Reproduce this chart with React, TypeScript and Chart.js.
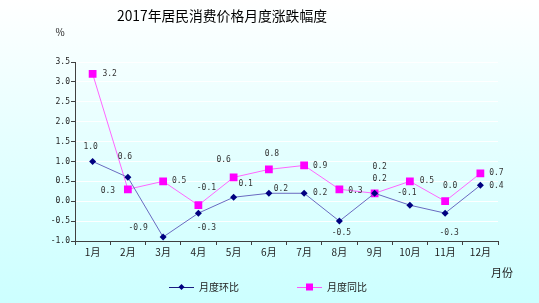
import React, { useEffect, useRef } from "react";
import { Chart, registerables } from "chart.js";

Chart.register(...registerables);

const months = ["1月", "2月", "3月", "4月", "5月", "6月", "7月", "8月", "9月", "10月", "11月", "12月"];
const momValues = [1.0, 0.6, -0.9, -0.3, 0.1, 0.2, 0.2, -0.5, 0.2, -0.1, -0.3, 0.4];
const yoyValues = [3.2, 0.3, 0.5, -0.1, 0.6, 0.8, 0.9, 0.3, 0.2, 0.5, 0.0, 0.7];
const momName = "月度环比";
const yoyName = "月度同比";
const titleText = "2017年居民消费价格月度涨跌幅度";
const yUnit = "%";
const xUnit = "月份";

// label offsets (style only): [dx, dy] in px from each point
const momLabelOffsets = [[-2, -15], [-3, -20], [-25, -9], [8, 15], [12, -13], [12, -4], [16, 0], [2, 12], [5, -14], [-3, -12], [4, 20], [16, 1]];
const yoyLabelOffsets = [[17, 0], [-20, 2], [16, 0], [8, -17], [-10, -17], [3, -15], [16, 0], [16, 2], [5, -26], [17, 0], [5, -15], [16, 0]];

const MONO = "'DejaVu Sans Mono', monospace";
const CJK = "'Noto Sans CJK SC', sans-serif";

const decorPlugin = {
  id: "decor",
  afterDatasetsDraw(chart: any) {
    const ctx = chart.ctx;
    ctx.save();
    // data labels
    ctx.font = `8px ${MONO}`;
    ctx.fillStyle = "#333333";
    ctx.textAlign = "center";
    ctx.textBaseline = "middle";
    const offs = [momLabelOffsets, yoyLabelOffsets];
    chart.data.datasets.forEach((ds: any, di: number) => {
      const meta = chart.getDatasetMeta(di);
      meta.data.forEach((pt: any, i: number) => {
        const v = ds.data[i] as number;
        const [dx, dy] = offs[di][i];
        ctx.fillText(v.toFixed(1), pt.x + dx, pt.y + dy);
      });
    });
    // title
    ctx.fillStyle = "#000000";
    ctx.font = `13.8px ${CJK}`;
    ctx.fillText(titleText, 222, 16);
    ctx.font = `10px ${CJK}`;
    ctx.fillStyle = "#222222";
    ctx.fillText(yUnit, 60, 32);
    ctx.font = `11px ${CJK}`;
    ctx.fillText(xUnit, 502, 273);
    // legend
    const drawLegend = (x: number, lineColor: string, markColor: string, diamond: boolean, text: string) => {
      const y = 287;
      ctx.strokeStyle = lineColor;
      ctx.lineWidth = 1;
      ctx.beginPath();
      ctx.moveTo(x, y + 0.5);
      ctx.lineTo(x + 25, y + 0.5);
      ctx.stroke();
      ctx.fillStyle = markColor;
      const cx = x + 12.5;
      if (diamond) {
        ctx.beginPath();
        ctx.moveTo(cx, y - 3);
        ctx.lineTo(cx + 3, y);
        ctx.lineTo(cx, y + 3);
        ctx.lineTo(cx - 3, y);
        ctx.closePath();
        ctx.fill();
      } else {
        ctx.fillRect(cx - 3.5, y - 3.5, 7, 7);
      }
      ctx.fillStyle = "#222222";
      ctx.font = `10px ${CJK}`;
      ctx.textAlign = "left";
      ctx.fillText(text, x + 30, y);
      ctx.textAlign = "center";
    };
    drawLegend(169, "#1a1a80", "#000080", true, momName);
    drawLegend(297, "#ff55ff", "#ff00ff", false, yoyName);
    ctx.restore();
  },
};

export default function App() {
  const ref = useRef<HTMLCanvasElement>(null);
  useEffect(() => {
    document.body.style.margin = "0";
    const chart = new Chart(ref.current!, {
      type: "line",
      data: {
        labels: months,
        datasets: [
          {
            label: momName,
            data: momValues,
            borderColor: "#6a6ac0",
            borderWidth: 1,
            backgroundColor: "#000080",
            pointBackgroundColor: "#000080",
            pointBorderColor: "#000080",
            pointStyle: "rectRot",
            pointRadius: 3.5,
            pointBorderWidth: 0,
            tension: 0,
          },
          {
            label: yoyName,
            data: yoyValues,
            borderColor: "#ff66ff",
            borderWidth: 1,
            backgroundColor: "#ff00ff",
            pointBackgroundColor: "#ff00ff",
            pointBorderColor: "#ff00ff",
            pointStyle: "rect",
            pointRadius: 5.5,
            pointBorderWidth: 0,
            tension: 0,
          },
        ],
      },
      options: {
        animation: false,
        responsive: false,
        devicePixelRatio: 1,
        layout: { padding: { top: 62, right: 41, left: 0, bottom: 0 } },
        plugins: { legend: { display: false }, title: { display: false }, tooltip: { enabled: false } },
        scales: {
          x: {
            offset: true,
            afterFit: (s: any) => { s.height = 62; },
            grid: { offset: true, drawOnChartArea: false, drawTicks: true, tickLength: 4, color: "#404040", tickColor: "#404040" },
            border: { display: true, color: "#404040", width: 1 },
            ticks: { color: "#222222", font: { family: CJK, size: 10 }, padding: 1, maxRotation: 0, autoSkip: false },
          },
          y: {
            min: -1,
            max: 3.5,
            afterFit: (s: any) => { s.width = 75; },
            grid: { color: "rgba(255,255,255,0.95)", tickColor: "#404040", tickLength: 4, drawTicks: true, lineWidth: 1 },
            border: { display: true, color: "#404040", width: 1 },
            ticks: {
              stepSize: 0.5,
              color: "#222222",
              font: { family: MONO, size: 8 },
              padding: 1,
              callback: (v: any) => Number(v).toFixed(1),
            },
          },
        },
      },
      plugins: [decorPlugin],
    });
    return () => chart.destroy();
  }, []);
  return (
    <div style={{ width: 539, height: 303, background: "linear-gradient(to bottom, #ffffff 0%, #e6ffff 45%, #ccffff 100%)" }}>
      <canvas ref={ref} width={539} height={303} style={{ display: "block" }} />
    </div>
  );
}
